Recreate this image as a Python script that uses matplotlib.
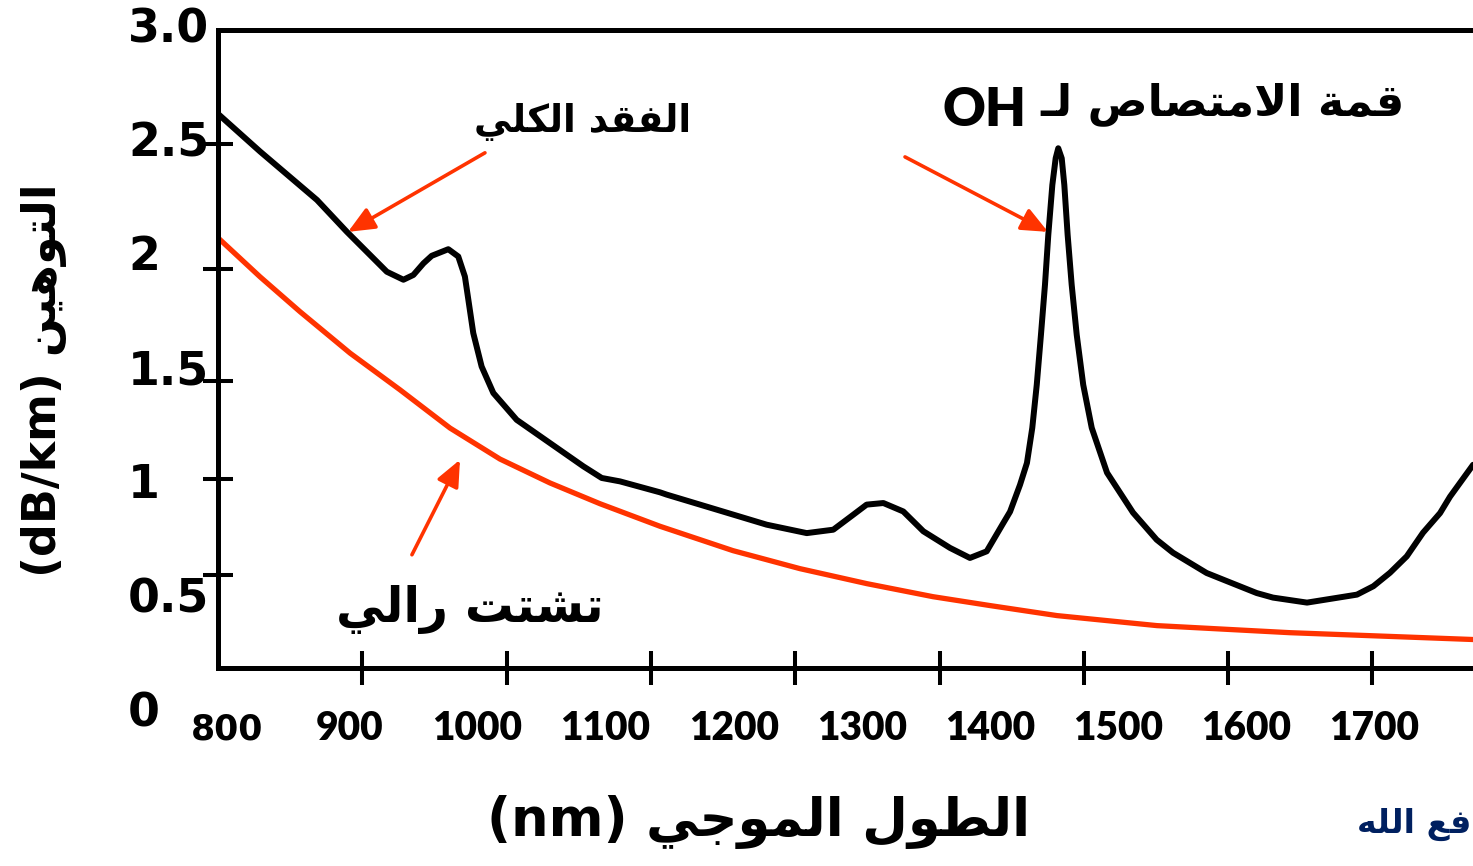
import matplotlib
matplotlib.use("Agg")
import matplotlib.pyplot as plt
import matplotlib.transforms as mtransforms

# ---------------------- 数据 ----------------------
# 总损耗曲线 (nm, dB/km)
wavelength_total = [800, 829.1, 868.6, 889.2, 903.1, 917.0, 928.5, 935.4, 942.4, 948.1, 959.6,
                    966.5, 971.1, 973.5, 976.9, 982.7, 990.8, 1007.0, 1030.1, 1053.2, 1065.9,
                    1078.6, 1106.3, 1110.9, 1145.6, 1180.2, 1208.0, 1226.4, 1240.3, 1249.5,
                    1261.1, 1274.9, 1288.8, 1307.3, 1321.1, 1332.7, 1344.2, 1348.9, 1355.8,
                    1360.6, 1364.3, 1367.4, 1370.3, 1373.1, 1375.4, 1378.2, 1380.5, 1382.3,
                    1384.7, 1386.5, 1388.8, 1391.6, 1395.1, 1399.6, 1405.5, 1416.1, 1434.1,
                    1450.5, 1461.8, 1485.1, 1496.5, 1519.8, 1531.1, 1554.7, 1589.3, 1600.7,
                    1612.2, 1623.8, 1635.1, 1646.9, 1653.8, 1669.8]
loss_total = [2.632, 2.467, 2.254, 2.115, 2.027, 1.939, 1.904, 1.925, 1.976, 2.009, 2.038,
              2.006, 1.918, 1.816, 1.670, 1.523, 1.407, 1.289, 1.187, 1.085, 1.034,
              1.019, 0.971, 0.961, 0.895, 0.829, 0.792, 0.807, 0.873, 0.917,
              0.924, 0.887, 0.800, 0.727, 0.683, 0.712, 0.836, 0.886, 1.004,
              1.100, 1.254, 1.443, 1.662, 1.882, 2.101, 2.320, 2.437, 2.481,
              2.437, 2.320, 2.101, 1.882, 1.662, 1.443, 1.254, 1.057, 0.882,
              0.763, 0.706, 0.617, 0.588, 0.529, 0.509, 0.487, 0.522, 0.559,
              0.618, 0.690, 0.794, 0.880, 0.952, 1.092]

# 瑞利散射曲线
wavelength_rayleigh = [800, 829.1, 856.8, 891.5, 926.1, 960.8, 995.4, 1030.1, 1064.7, 1106.3,
                       1156.9, 1203.3, 1249.8, 1295.5, 1335.0, 1381.4, 1450.7, 1542.9, 1669.8]
loss_rayleigh = [2.088, 1.917, 1.764, 1.582, 1.421, 1.253, 1.117, 1.012, 0.921, 0.822,
                 0.715, 0.636, 0.570, 0.513, 0.474, 0.430, 0.386, 0.355, 0.325]

xtick_marks = [900, 1000, 1100, 1200, 1300, 1400, 1500, 1600]
xtick_labels = ["800", "900", "1000", "1100", "1200", "1300", "1400", "1500", "1600", "1700"]
ytick_marks = [2.50, 1.95, 1.46, 1.03, 0.61]
ytick_values = [3.0, 2.5, 2.0, 1.5, 1.0, 0.5, 0.0]
ytick_labels = ["3.0", "2.5", "2", "1.5", "1", "0.5", "0"]

RED = "#ff3300"

# ---------------------- 阿拉伯文字形处理 ----------------------
DUAL = {'ت': 0xFE95, 'ج': 0xFE9D, 'ش': 0xFEB5, 'ص': 0xFEB9, 'ط': 0xFEC1, 'ع': 0xFEC9,
        'ف': 0xFED1, 'ق': 0xFED5, 'ك': 0xFED9, 'ل': 0xFEDD, 'م': 0xFEE1, 'ن': 0xFEE5,
        'ه': 0xFEE9, 'ي': 0xFEF1}
RIGHT = {'ا': 0xFE8D, 'ة': 0xFE93, 'د': 0xFEA9, 'ر': 0xFEAD, 'و': 0xFEED}
TATWEEL = 'ـ'


def ar(text):
    def links_next(c):
        return c in DUAL or c == TATWEEL

    def links_prev(c):
        return c in DUAL or c in RIGHT or c == TATWEEL

    res = []
    i = 0
    while i < len(text):
        c = text[i]
        prev = text[i - 1] if i > 0 else ' '
        nxt = text[i + 1] if i + 1 < len(text) else ' '
        a = links_next(prev)
        if c == 'ل' and nxt == 'ا':
            res.append(chr(0xFEFC if a else 0xFEFB))
            i += 2
            continue
        if c in DUAL:
            z = links_prev(nxt)
            res.append(chr(DUAL[c] + (3 if a and z else 1 if a else 2 if z else 0)))
        elif c in RIGHT:
            res.append(chr(RIGHT[c] + (1 if a else 0)))
        else:
            res.append(c)
        i += 1
    return ''.join(reversed(res))


W, H = 1473, 866


def fx(px):
    return px / W


def fy(py):
    return 1 - py / H


# ---------------------- 绘图 ----------------------
fig = plt.figure(figsize=(W / 100, H / 100), dpi=100)
ax = fig.add_axes([fx(218), 198 / H, (1680 - 800) * 1.443 / W, 638 / H])

ax.plot(wavelength_rayleigh, loss_rayleigh, color=RED, lw=3.8,
        solid_joinstyle="round", solid_capstyle="butt")
ax.plot(wavelength_total, loss_total, color="black", lw=4.3,
        solid_joinstyle="round", solid_capstyle="round")

ax.set_xlim(800, 1680)
ax.set_ylim(0.2, 3.0)

for s in ["top", "left", "bottom"]:
    ax.spines[s].set_linewidth(3.6)
ax.spines["right"].set_visible(False)

ax.set_xticks(xtick_marks)
ax.set_yticks(ytick_marks)
ax.tick_params(axis="x", direction="inout", length=25, width=2.9, labelbottom=False)
ax.tick_params(axis="y", direction="inout", length=22, width=2.9, labelleft=False)

# 刻度标签（原图中位置与刻度线不对齐）
ytrans = mtransforms.blended_transform_factory(fig.transFigure, ax.transData)
for v, lab in zip(ytick_values, ytick_labels):
    ax.text(fx(128), v, lab, transform=ytrans, ha="left", va="center",
            fontsize=33, fontweight="bold", family="DejaVu Sans", clip_on=False)

xtrans = mtransforms.blended_transform_factory(ax.transData, fig.transFigure)
for lab in xtick_labels:
    v = int(lab)
    pos = 802.1 + 0.888 * (v - 800)
    if lab == "800":
        ax.text(pos + 4, fy(729), lab, transform=xtrans, ha="center", va="center",
                fontsize=25, fontweight="bold", family="DejaVu Sans", clip_on=False)
    else:
        ax.text(pos, fy(728), lab, transform=xtrans, ha="center", va="center",
                fontsize=28, fontweight="heavy", family="Lato", clip_on=False)

# 轴标题
fig.text(fx(759), fy(822), "(nm) " + ar("الطول الموجي"), ha="center", va="center",
         fontsize=38, fontweight="bold", family="DejaVu Sans")
fig.text(fx(44), fy(380), "(dB/km) " + ar("التوهين"), ha="center", va="center",
         rotation=90, fontsize=33, fontweight="bold", family="DejaVu Sans")

# 注释
fig.text(fx(583), fy(122), ar("الفقد الكلي"), ha="center", va="center",
         fontsize=27, fontweight="bold", family="DejaVu Sans")
fig.text(fx(1026), fy(110), "OH", ha="right", va="center",
         fontsize=38, fontweight="heavy", family="Lato")
fig.text(fx(1405), fy(104), ar("قمة الامتصاص لـ"), ha="right", va="center",
         fontsize=32, fontweight="bold", family="DejaVu Sans")
fig.text(fx(470), fy(609), ar("تشتت رالي"), ha="center", va="center",
         fontsize=35, fontweight="bold", family="DejaVu Sans")
# 右下角水印（原图中只露出一部分）
fig.text(fx(1471), fy(824), ar("فع الله"), ha="right", va="center",
         fontsize=24, fontweight="bold", family="DejaVu Sans", color="#002060")

arrow = dict(arrowstyle="-|>,head_length=0.8,head_width=0.35", color=RED, lw=2.6,
             mutation_scale=20, shrinkA=0, shrinkB=0)
ax.annotate("", xy=(890.1, 2.114), xytext=(985.0, 2.461), arrowprops=arrow)
ax.annotate("", xy=(967.7, 1.114), xytext=(934.4, 0.697), arrowprops=arrow)
ax.annotate("", xy=(1375.2, 2.114), xytext=(1276.1, 2.443), arrowprops=arrow)

fig.savefig("out.png", dpi=100)
